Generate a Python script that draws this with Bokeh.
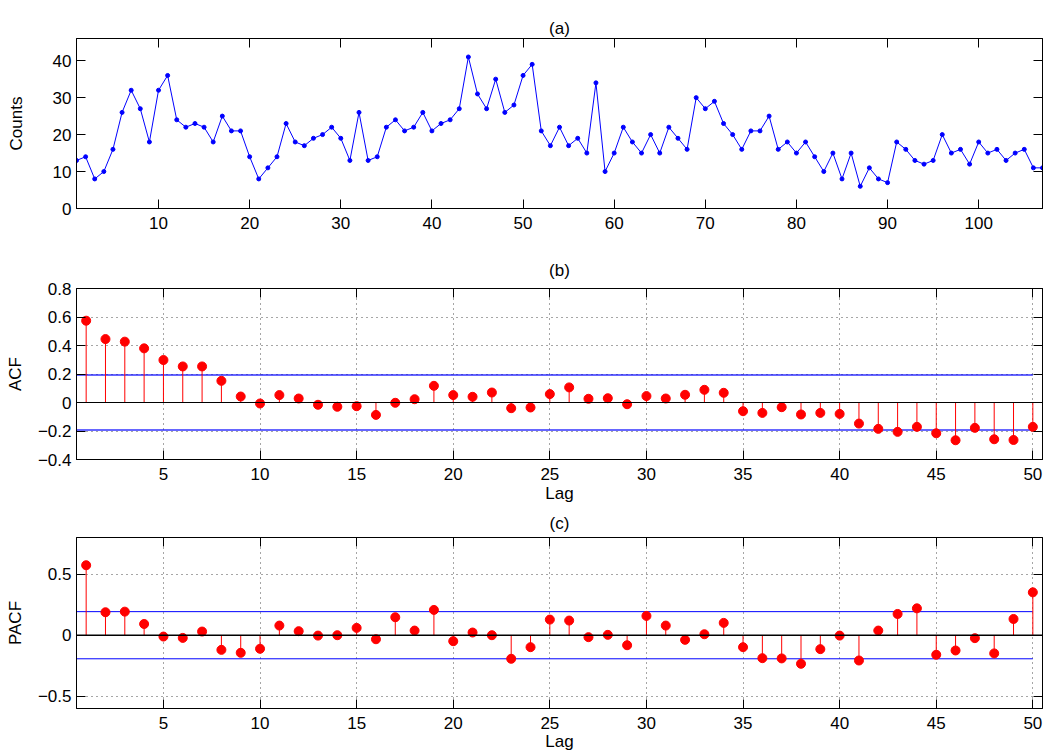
from bokeh.plotting import figure
from bokeh.models import (Range1d, LinearAxis, FixedTicker, Span, CustomJSTickFormatter,
                          CustomLabelingPolicy)
from bokeh.layouts import column
from bokeh.embed import file_html
from bokeh.resources import INLINE

# ---------------- data ----------------
counts = [13, 14, 8, 10, 16, 26, 32, 27, 18, 32, 36, 24, 22, 23, 22, 18, 25, 21, 21, 14,
          8, 11, 14, 23, 18, 17, 19, 20, 22, 19, 13, 26, 13, 14, 22, 24,
          21, 22, 26, 21, 23, 24, 27, 41, 31, 27, 35, 26, 28, 36, 39, 21, 17, 22, 17, 19,
          15, 34, 10, 15, 22, 18, 15, 20, 15, 22, 19, 16, 30, 27, 29,
          23, 20, 16, 21, 21, 25, 16, 18, 15, 18, 14, 10, 15, 8, 15, 6, 11, 8, 7, 18,
          16, 13, 12, 13, 20, 15, 16, 12, 18, 15, 16, 13, 15, 16, 11, 11]
time_idx = list(range(1, len(counts) + 1))

lags = list(range(1, 51))
acf = [0.574, 0.445, 0.427, 0.380, 0.298, 0.253, 0.253, 0.152, 0.042, -0.007,
       0.052, 0.028, -0.016, -0.030, -0.026, -0.087, -0.002, 0.023, 0.117, 0.052,
       0.040, 0.070, -0.040, -0.035, 0.059, 0.106, 0.026, 0.030, -0.012, 0.045,
       0.028, 0.054, 0.089, 0.068, -0.061, -0.073, -0.033, -0.084, -0.073, -0.080,
       -0.148, -0.185, -0.206, -0.171, -0.216, -0.265, -0.178, -0.258, -0.263, -0.171]
pacf = [0.573, 0.188, 0.193, 0.092, -0.011, -0.022, 0.030, -0.120, -0.144, -0.111,
        0.079, 0.033, -0.003, 0.000, 0.060, -0.033, 0.147, 0.038, 0.207, -0.049,
        0.022, 0.000, -0.193, -0.098, 0.128, 0.120, -0.016, 0.003, -0.082, 0.158,
        0.079, -0.038, 0.008, 0.101, -0.098, -0.188, -0.190, -0.234, -0.114, -0.003,
        -0.207, 0.038, 0.174, 0.220, -0.160, -0.125, -0.024, -0.149, 0.133, 0.351]
conf = 0.193

a_xticks = [10, 20, 30, 40, 50, 60, 70, 80, 90, 100]
a_yticks = [0, 10, 20, 30, 40]
lag_ticks = [5, 10, 15, 20, 25, 30, 35, 40, 45, 50]
acf_yticks = [-0.4, -0.2, 0, 0.2, 0.4, 0.6, 0.8]
pacf_yticks = [-0.5, 0, 0.5]

FONT = "Liberation Sans"
FS = "17px"
W = 1046
LEFT = 76
RIGHT = 4

fmt = CustomJSTickFormatter(code="""
if (Math.abs(tick) < 1e-9) { return '0'; }
var s = (Math.round(tick * 10) / 10).toString();
return s.replace('-', '\\u2212');
""")

no_labels = CustomLabelingPolicy(code="""
for (const i of indices) { indices.unset(i) }
return indices
""")


def box_axis(ticks, tick_in=9, tick_out=0, visible=True):
    return LinearAxis(ticker=FixedTicker(ticks=ticks),
                      major_label_policy=no_labels,
                      major_label_text_font_size="0px", major_label_standoff=0,
                      major_tick_in=tick_in, major_tick_out=tick_out,
                      minor_tick_in=0, minor_tick_out=0,
                      axis_line_color="black" if visible else None,
                      major_tick_line_color="black" if visible else None)


def base_fig(height, top, bottom, xr, yr, xticks, yticks, title, title_standoff,
             ylabel, ylab_standoff, xlabel=None, xlab_standoff=1, yfmt=None, grid=False,
             title_gap=0):
    p = figure(width=W, height=height, x_range=xr, y_range=yr,
               output_backend="svg", toolbar_location=None,
               min_border_left=LEFT, min_border_right=RIGHT,
               min_border_top=top, min_border_bottom=bottom)
    p.background_fill_color = "white"
    p.border_fill_color = "white"
    p.outline_line_color = "black"
    p.outline_line_width = 1

    p.title.text = title
    p.title.align = "center"
    p.title.text_font = FONT
    p.title.text_font_size = FS
    p.title.text_font_style = "normal"
    p.title.text_color = "black"
    p.title.standoff = title_standoff

    for ax in (p.xaxis[0], p.yaxis[0]):
        ax.major_tick_in = 9
        ax.major_tick_out = 0
        ax.minor_tick_in = 0
        ax.minor_tick_out = 0
        ax.axis_line_color = "black"
        ax.major_tick_line_color = "black"
        ax.major_label_text_font = FONT
        ax.major_label_text_font_size = FS
        ax.major_label_text_color = "black"
        ax.axis_label_text_font = FONT
        ax.axis_label_text_font_size = FS
        ax.axis_label_text_font_style = "normal"
        ax.axis_label_text_color = "black"
    p.xaxis[0].ticker = FixedTicker(ticks=xticks)
    p.yaxis[0].ticker = FixedTicker(ticks=yticks)
    p.xaxis[0].major_label_standoff = 8
    p.yaxis[0].major_label_standoff = 5
    p.yaxis[0].axis_label = ylabel
    p.yaxis[0].axis_label_standoff = ylab_standoff
    if xlabel:
        p.xaxis[0].axis_label = xlabel
        p.xaxis[0].axis_label_standoff = xlab_standoff
    if yfmt is not None:
        p.yaxis[0].formatter = yfmt

    # box ticks on top and right (no labels)
    p.add_layout(box_axis(xticks), "above")
    p.add_layout(box_axis(yticks), "right")
    if title_gap:
        # invisible spacer between the frame and the title
        p.add_layout(box_axis(xticks, tick_in=0, tick_out=title_gap, visible=False), "above")

    if grid:
        p.xgrid.ticker = FixedTicker(ticks=xticks)
        p.ygrid.ticker = FixedTicker(ticks=yticks)
        for g in (p.xgrid[0], p.ygrid[0]):
            g.grid_line_color = "black"
            g.grid_line_dash = "1 4"
            g.grid_line_alpha = 0.7
            g.grid_line_width = 1
    else:
        p.xgrid.visible = False
        p.ygrid.visible = False
    return p


# ---------------- (a) ----------------
pa = base_fig(247, 38, 39, Range1d(1, len(counts)), Range1d(0, 46),
              a_xticks, a_yticks, "(a)", 2, "Counts", 24)
pa.line(time_idx, counts, line_color="blue", line_width=1)
pa.scatter(time_idx, counts, size=4, color="blue")

# ---------------- (b) ----------------
pb = base_fig(262, 41, 50, Range1d(0.5, 50.5), Range1d(-0.4, 0.8),
              lag_ticks, acf_yticks, "(b)", 18, "ACF", 10, xlabel="Lag", xlab_standoff=1,
              yfmt=fmt, grid=True)
pb.add_layout(Span(location=0, dimension="width", line_color="black", line_width=1))
conf_x = [0.5, lags[-1]]
pb.line(conf_x, [conf, conf], line_color="blue", line_alpha=0.6, line_width=2)
pb.line(conf_x, [-conf, -conf], line_color="blue", line_alpha=0.6, line_width=2)
pb.segment(x0=lags, y0=[0] * len(lags), x1=lags, y1=acf, line_color="red", line_width=1)
pb.scatter(lags, acf, size=9, color="red")

# ---------------- (c) ----------------
pc = base_fig(246, 28, 47, Range1d(0.5, 50.5), Range1d(-0.6, 0.8),
              lag_ticks, pacf_yticks, "(c)", 0, "PACF", 10, xlabel="Lag", xlab_standoff=0,
              yfmt=fmt, grid=True, title_gap=5)
pc.add_layout(Span(location=0, dimension="width", line_color="black", line_width=1.5))
pc.line(conf_x, [conf, conf], line_color="blue", line_width=1)
pc.line(conf_x, [-conf, -conf], line_color="blue", line_width=1)
pc.segment(x0=lags, y0=[0] * len(lags), x1=lags, y1=pacf, line_color="red", line_width=1)
pc.scatter(lags, pacf, size=9, color="red")

layout = column(pa, pb, pc, spacing=0)
open("out.html", "w").write(file_html(layout, INLINE))
